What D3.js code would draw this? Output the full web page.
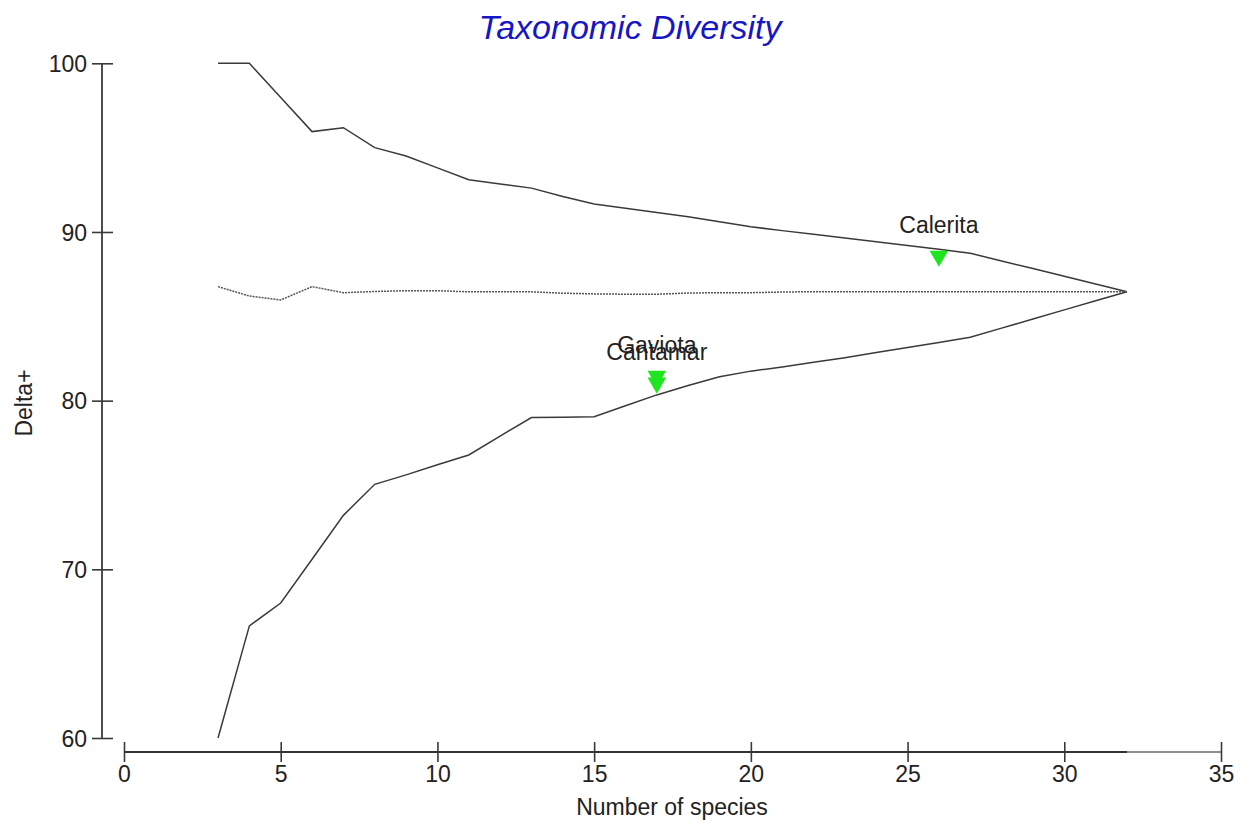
<!DOCTYPE html>
<html>
<head>
<meta charset="utf-8">
<script src="https://cdn.jsdelivr.net/npm/d3@7"></script>
<style>
  html, body { margin: 0; padding: 0; background: #fff; }
  svg { display: block; font-family: "Liberation Sans", Arial, sans-serif; }
</style>
</head>
<body>
<svg id="chart" width="1251" height="830"></svg>
<script>
// Number of species in each random sublist
const speciesCounts = [3, 4, 5, 6, 7, 8, 9, 10, 11, 12, 13, 14, 15, 16, 17, 18, 19, 20,
  21, 22, 23, 24, 25, 26, 27, 28, 29, 30, 31, 32];
// Upper 95% probability limit of Delta+
const upperLimit = [100, 100, 97.97, 95.95, 96.18, 95.0, 94.5, 93.8, 93.1, 92.85, 92.6, 92.1,
  91.66, 91.4, 91.15, 90.9, 90.6, 90.31, 90.08, 89.86, 89.64, 89.42, 89.2, 88.97, 88.74,
  88.28, 87.83, 87.37, 86.92, 86.46];
// Lower 95% probability limit of Delta+
const lowerLimit = [60.0, 66.65, 68.0, 70.6, 73.2, 75.04, 75.6, 76.2, 76.78, 77.9, 79.0, 79.02,
  79.05, 79.7, 80.34, 80.9, 81.42, 81.75, 82.0, 82.28, 82.55, 82.85, 83.15, 83.45, 83.76,
  84.3, 84.84, 85.38, 85.92, 86.46];
// Mean Delta+ from the simulations
const meanDelta = [86.76, 86.2, 85.97, 86.76, 86.4, 86.47, 86.52, 86.52, 86.45, 86.45, 86.45,
  86.37, 86.33, 86.31, 86.31, 86.38, 86.4, 86.4, 86.44, 86.46, 86.46, 86.46, 86.46, 86.46,
  86.46, 86.46, 86.46, 86.46, 86.46, 86.46];

// Observed samples
const sampleNames = ["Gaviota", "Cantamar", "Calerita"];
const sampleSpecies = [17, 17, 26];
const sampleDelta = [81.45, 81.05, 88.57];

// Axis ticks
const xTicks = [0, 5, 10, 15, 20, 25, 30, 35];
const yTicks = [60, 70, 80, 90, 100];

const svg = d3.select("#chart");
const x = d3.scaleLinear().domain([0, 35]).range([124, 1221]);
const y = d3.scaleLinear().domain([60, 100]).range([738, 63.3]);

const axisColor = "#3a3a3a";
const lineColor = "#3a3a3a";

// Title
svg.append("text")
  .attr("x", 630).attr("y", 39)
  .attr("text-anchor", "middle")
  .attr("font-size", 34).attr("font-style", "italic")
  .attr("fill", "#1616c4")
  .text("Taxonomic Diversity");

// Y axis
const yAxis = svg.append("g")
  .attr("transform", "translate(102,0)")
  .call(d3.axisLeft(y).tickValues(yTicks).tickSize(10).tickFormat(d3.format("d")));
yAxis.select(".domain").attr("d", `M0,${y(100)}V${y(60)}`)
  .attr("stroke", axisColor).attr("stroke-width", 1.8);
yAxis.selectAll(".tick line").attr("x1", -10).attr("x2", 11)
  .attr("stroke", axisColor).attr("stroke-width", 1.6);
yAxis.selectAll(".tick text").attr("x", -15).attr("dy", "0.35em")
  .attr("font-size", 23).attr("fill", "#222")
  .attr("font-family", "Liberation Sans, Arial, sans-serif");

// X axis
const xAxis = svg.append("g")
  .attr("transform", "translate(0,752)")
  .call(d3.axisBottom(x).tickValues(xTicks).tickSize(10).tickFormat(d3.format("d")));
xAxis.select(".domain").attr("d", `M${x(0)},0H${x(35)}`)
  .attr("stroke", "#6a6a6a").attr("stroke-width", 1.6);
xAxis.selectAll(".tick line").attr("y1", -10).attr("y2", 10)
  .attr("stroke", axisColor).attr("stroke-width", 1.6);
xAxis.selectAll(".tick text").attr("y", 14).attr("dy", "0.71em")
  .attr("font-size", 23).attr("fill", "#222")
  .attr("font-family", "Liberation Sans, Arial, sans-serif");
// darker stretch of the x axis over the simulated species range
xAxis.append("line")
  .attr("x1", x(0)).attr("x2", x(d3.max(speciesCounts)))
  .attr("y1", 0).attr("y2", 0)
  .attr("stroke", "#333").attr("stroke-width", 2);

// Axis titles
svg.append("text")
  .attr("x", 672).attr("y", 815)
  .attr("text-anchor", "middle").attr("font-size", 23).attr("fill", "#222")
  .text("Number of species");
svg.append("text")
  .attr("transform", "translate(32,403) rotate(-90)")
  .attr("text-anchor", "middle").attr("font-size", 23).attr("fill", "#222")
  .text("Delta+");

// Funnel lines
const line = d3.line()
  .x((d, i) => x(speciesCounts[i]))
  .y(d => y(d));

svg.append("path").datum(upperLimit)
  .attr("d", line).attr("fill", "none")
  .attr("stroke", lineColor).attr("stroke-width", 1.5);
svg.append("path").datum(lowerLimit)
  .attr("d", line).attr("fill", "none")
  .attr("stroke", lineColor).attr("stroke-width", 1.5);
svg.append("path").datum(meanDelta)
  .attr("d", line).attr("fill", "none")
  .attr("stroke", "#555").attr("stroke-width", 1.5)
  .attr("stroke-dasharray", "2,1");

// Sample markers (downward triangles) and labels
const samples = sampleNames.map((name, i) => ({ name, n: sampleSpecies[i], v: sampleDelta[i] }));
const tri = d3.symbol().type(d3.symbolTriangle).size(150);

svg.selectAll(".marker").data(samples).enter().append("path")
  .attr("class", "marker")
  .attr("d", tri)
  .attr("transform", d => `translate(${x(d.n)},${y(d.v)}) rotate(180)`)
  .attr("fill", "#1ee61e");

svg.selectAll(".label").data(samples).enter().append("text")
  .attr("class", "label")
  .attr("x", d => x(d.n))
  .attr("y", d => y(d.v) - 23)
  .attr("text-anchor", "middle")
  .attr("font-size", 23).attr("fill", "#222")
  .text(d => d.name);
</script>
</body>
</html>
